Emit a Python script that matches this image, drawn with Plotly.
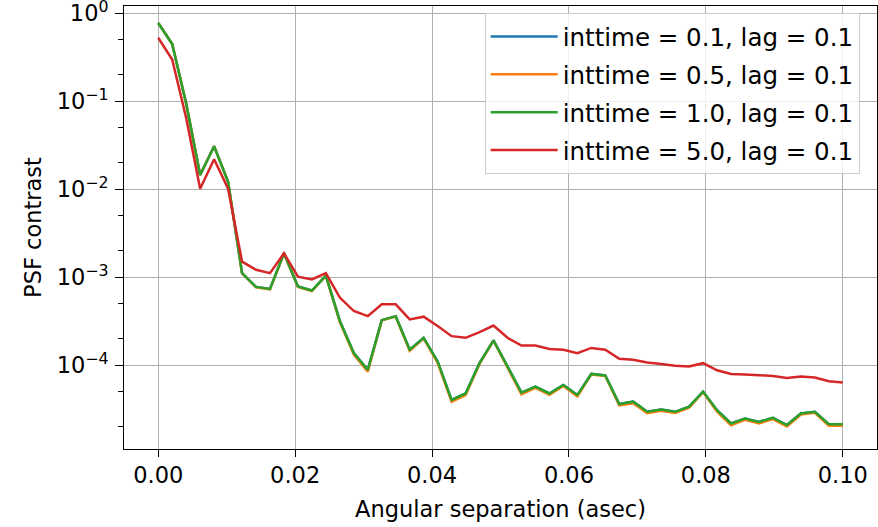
import numpy as np
import plotly.graph_objects as go

separation = np.linspace(0, 0.1, 50)

contrast_inttime_0_1 = [
    0.78, 0.45, 0.095, 0.0146, 0.031, 0.0122, 0.00112, 0.00078, 0.00074, 0.00188,
    0.00079, 0.00071, 0.00105, 0.00032, 0.000138, 0.000089, 0.000327, 0.000363, 0.000151, 0.000206,
    0.000111, 0.0000405, 0.000048, 0.000106, 0.000193, 0.000097, 0.000049, 0.0000575, 0.000048, 0.00006,
    0.000046, 0.00008, 0.000077, 0.0000364, 0.0000387, 0.0000297, 0.0000316, 0.0000297, 0.000034, 0.0000504,
    0.000031, 0.0000219, 0.0000249, 0.0000228, 0.0000254, 0.000021, 0.0000284, 0.0000297, 0.0000215, 0.0000215,
]
contrast_inttime_0_5 = [
    0.78, 0.45, 0.095, 0.0146, 0.031, 0.0122, 0.00112, 0.00077, 0.00073, 0.00188,
    0.00078, 0.0007, 0.00105, 0.00031, 0.000133, 0.000085, 0.000325, 0.00036, 0.000146, 0.000203,
    0.000107, 0.0000385, 0.000046, 0.000104, 0.000191, 0.000094, 0.000047, 0.0000555, 0.0000462, 0.0000585,
    0.0000445, 0.000079, 0.000076, 0.0000352, 0.0000372, 0.0000286, 0.0000305, 0.0000288, 0.0000331, 0.0000498,
    0.0000298, 0.0000209, 0.0000241, 0.0000219, 0.0000245, 0.0000202, 0.0000276, 0.0000289, 0.0000206, 0.0000206,
]
contrast_inttime_1_0 = [
    0.78, 0.45, 0.095, 0.0146, 0.031, 0.0122, 0.00112, 0.00078, 0.00074, 0.00188,
    0.00079, 0.00071, 0.00105, 0.00032, 0.000138, 0.000089, 0.000327, 0.000363, 0.000151, 0.000206,
    0.000111, 0.0000405, 0.000048, 0.000106, 0.000193, 0.000097, 0.000049, 0.0000575, 0.000048, 0.00006,
    0.000046, 0.00008, 0.000077, 0.0000364, 0.0000387, 0.0000297, 0.0000316, 0.0000297, 0.000034, 0.0000504,
    0.000031, 0.0000219, 0.0000249, 0.0000228, 0.0000254, 0.000021, 0.0000284, 0.0000297, 0.0000215, 0.0000215,
]
contrast_inttime_5_0 = [
    0.53, 0.30, 0.065, 0.0102, 0.022, 0.0102, 0.00151, 0.00122, 0.00112, 0.00188,
    0.00102, 0.00095, 0.00112, 0.00059, 0.000415, 0.000363, 0.000495, 0.000495, 0.000333, 0.000358,
    0.00028, 0.000215, 0.000206, 0.000239, 0.000284, 0.000206, 0.000168, 0.000168, 0.000154, 0.000151,
    0.000138, 0.000158, 0.000151, 0.000119, 0.000116, 0.000108, 0.000104, 0.000099, 0.000097, 0.000106,
    0.000088, 0.00008, 0.000079, 0.000077, 0.000076, 0.000072, 0.000075, 0.000073, 0.000066, 0.000064,
]

series_labels = [
    "inttime = 0.1, lag = 0.1",
    "inttime = 0.5, lag = 0.1",
    "inttime = 1.0, lag = 0.1",
    "inttime = 5.0, lag = 0.1",
]
series_values = [contrast_inttime_0_1, contrast_inttime_0_5, contrast_inttime_1_0, contrast_inttime_5_0]
series_colors = ["#1f77b4", "#ff7f0e", "#2ca02c", "#d62728"]

y_tickvals = [1, 0.1, 0.01, 0.001, 0.0001]
y_ticktext = ["10<sup>0</sup>", "10<sup>−1</sup>", "10<sup>−2</sup>", "10<sup>−3</sup>", "10<sup>−4</sup>"]

FONT = "DejaVu Sans"
FS = 22.5

fig = go.Figure()
for i, (lab, vals, col) in enumerate(zip(series_labels, series_values, series_colors)):
    fig.add_trace(go.Scatter(
        x=separation, y=vals, mode="lines", name=lab,
        line=dict(color=col, width=2.5), legendgroup=f"g{i}",
    ))

fig.update_layout(
    width=878, height=527,
    margin=dict(l=124, r=1, t=6, b=78, autoexpand=False),
    paper_bgcolor="white", plot_bgcolor="white",
    font=dict(family=FONT, size=FS, color="black"),
    showlegend=True,
    legend=dict(
        x=0.479, y=0.984, xanchor="left", yanchor="top",
        bgcolor="rgba(255,255,255,0.8)", bordercolor="#cccccc", borderwidth=1,
        font=dict(family=FONT, size=24.5, color="black"),
        tracegroupgap=3, itemwidth=67,
    ),
)
fig.update_xaxes(
    range=[-0.005, 0.105], tick0=0, dtick=0.02, tickformat=".2f",
    showgrid=True, gridcolor="#b0b0b0", gridwidth=1,
    showline=True, linecolor="black", linewidth=1, mirror=True,
    ticks="outside", ticklen=7, tickcolor="black", zeroline=False,
    ticklabelstandoff=-1, ticklabeloverflow="allow",
    automargin=False,
    title=dict(text="Angular separation (asec)", font=dict(size=FS), standoff=14),
)
fig.update_yaxes(
    type="log", range=[-4.95, 0.085],
    tickvals=y_tickvals, ticktext=y_ticktext,
    showgrid=True, gridcolor="#b0b0b0", gridwidth=1,
    showline=True, linecolor="black", linewidth=1, mirror=True,
    ticks="outside", ticklen=8, tickcolor="black", zeroline=False,
    minor=dict(ticks="outside", ticklen=5, tickcolor="black", showgrid=False),
    ticklabelstandoff=2, ticklabeloverflow="allow",
    automargin=False,
    title=dict(text="PSF contrast", font=dict(size=FS), standoff=8),
)

fig.write_html("out.html", config={"displayModeBar": False},
               post_script="document.body.style.margin='0';")
